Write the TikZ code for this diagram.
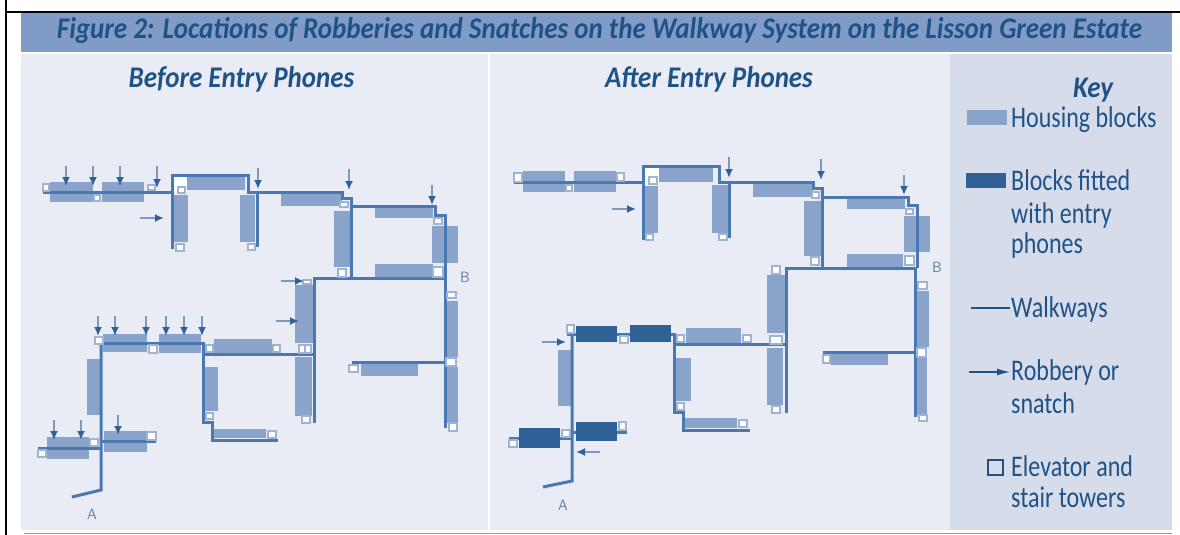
\documentclass[tikz,border=0pt]{standalone}
\usepackage{fontspec}
\usetikzlibrary{arrows.meta}
\newfontfamily\keyfont[FakeStretch=0.80]{Carlito}
\newfontfamily\headfont[FakeStretch=0.9]{Carlito Bold Italic}
\definecolor{bandc}{HTML}{7F9BC6}
\definecolor{panelc}{HTML}{E9ECF5}
\definecolor{keyc}{HTML}{D6DCEA}
\definecolor{blockc}{HTML}{8AA3CB}
\definecolor{darkc}{HTML}{2F6197}
\definecolor{walkc}{HTML}{4A79B2}
\definecolor{towerc}{HTML}{9FB3D3}
\definecolor{shaftc}{HTML}{7E98BE}
\definecolor{inkc}{HTML}{1F5286}
\definecolor{labelc}{HTML}{5F7DA8}
\tikzset{
  x=1pt,y=-1pt,
  walk/.style={draw=walkc,line width=3pt,line join=miter},
  towerbox/.style={draw=towerc,fill=white,line width=1.2pt},
  robbery/.style={draw=shaftc,line width=1.8pt,-{Latex[length=9pt,width=8pt,color=darkc]}},
  head/.style={font=\headfont\fontsize{30}{30}\selectfont,text=inkc,inner sep=0pt,anchor=base},
  keytext/.style={font=\keyfont\fontsize{30}{30}\selectfont,text=inkc,inner sep=0pt,anchor=base west},
  maplabel/.style={font=\sffamily\fontsize{15}{15}\selectfont,text=labelc,inner sep=0pt}
}
\begin{document}
\begin{tikzpicture}
\useasboundingbox (0,0) rectangle (1180,535);
\fill[white] (0,0) rectangle (1180,535);
% frame
\draw[black,line width=2pt] (6,0) -- (6,535);
\draw[black,line width=2pt] (6,12) -- (1180,12);
% panels
\fill[bandc] (21,13) rectangle (1172,52);
\fill[panelc] (21,54) rectangle (488,530);
\fill[panelc] (490,54) rectangle (950,530);
\fill[keyc] (950,54) rectangle (1172,530);
\draw[bandc,line width=1.5pt] (24,533.5) -- (1172,533.5);
% housing blocks
\foreach \a/\b/\c/\d in {
 50/182/93/202, 102/182/144/202, 187/177/245/190, 173/195/188/242, 240/195/255/242,
 281/193/342/206, 334/211/350/267, 375/207/433/218, 432/226/458/263, 375/264/433/277,
 295/285/313/343, 295/357/312/416, 445/301/458/357, 445/367/458/423, 361/363/418/376,
 103/334/147/352, 159/334/201/353, 214/339/272/353, 87/359/101/415, 204/367/218/411,
 214/429/266/438, 47/437/89/459, 104/431/147/452,
 523/171/565/192, 574/171/616/192, 659/168/713/182, 643/186/658/233, 712/185/729/233,
 753/183/813/197, 804/201/821/256, 847/197/905/209, 904/216/930/252, 847/254/903/268,
 767/275/785/333, 767/348/783/405, 917/291/929/347, 917/358/927/415, 831/353/888/365,
 686/328/741/343, 558/350/572/406, 676/358/691/401, 685/418/737/428}
 {\fill[blockc] (\a,\b) rectangle (\c,\d);}
% courtyards
\fill[white] (174,177) rectangle (187,193);
\fill[white] (644,168) rectangle (659,185);
% walkways, before
\draw[walk] (43,192) -- (172,192);
\draw[walk] (172,249) -- (172,175) -- (248,175) -- (248,192) -- (342,192) -- (342,198) -- (351,198) -- (351,278);
\draw[walk] (257,192) -- (257,247);
\draw[walk] (351,206) -- (435,206) -- (435,215) -- (445,215) -- (445,428);
\draw[walk] (314,423) -- (314,278) -- (445,278);
\draw[walk] (352,362) -- (445,362);
\draw[walk] (95,343) -- (203,343) -- (203,422) -- (212,422) -- (212,440) -- (278,440);
\draw[walk] (203,354) -- (314,354);
\draw[walk] (101,343) -- (101,490) -- (72,497);
\draw[walk] (38,448) -- (101,448);
\draw[walk] (101,441) -- (156,441);
% walkways, after
\draw[walk] (514,182) -- (643,182);
\draw[walk] (643,240) -- (643,166) -- (719,166) -- (719,182) -- (813,182) -- (813,188) -- (822,188) -- (822,268);
\draw[walk] (729,182) -- (729,238);
\draw[walk] (822,197) -- (908,197) -- (908,205) -- (917,205) -- (917,268);
\draw[walk] (786,413) -- (786,268) -- (917,268);
\draw[walk] (915.5,268) -- (915.5,417);
\draw[walk] (823,352) -- (915,352);
\draw[walk] (567,334) -- (674,334) -- (674,412) -- (683,412) -- (683,430) -- (750,430);
\draw[walk] (674,344) -- (786,344);
\draw[walk] (572,334) -- (572,481) -- (543,487);
\draw[walk] (509,438) -- (572,438);
\draw[walk] (572,432) -- (627,432);
% blocks fitted with entry phones, over the walkways
\foreach \a/\b/\c/\d in {576/326/617/342, 630/325/671/342, 576/422/617/441, 519/428/560/448}
 {\fill[darkc] (\a,\b) rectangle (\c,\d);}
% elevator and stair towers
\foreach \a/\b/\c/\d in {
 43/184/49/191, 94/195/100/201, 148/185/155/190, 178/187/185/193, 176/244/184/251, 248/244/255/250,
 340/202/348/207, 338/269/346/277, 434/218/442/224, 433/267/443/277, 303/280/311/284,
 299/345/305/353, 305/345/311/353, 302/416/310/423, 447/292/456/298, 446/358/456/366, 349/365/358/372, 449/423/457/431,
 95/337/103/344, 149/345/157/353, 206/345/213/352, 273/345/280/352, 206/413/213/419, 268/431/276/438,
 38/450/46/457, 90/439/98/446, 147/432/156/440,
 514/173/522/182, 566/185/572/191, 617/173/624/181, 649/177/657/184, 646/234/653/240, 719/234/727/240,
 812/192/819/198, 811/257/819/265, 906/209/913/214, 905/256/914/265, 918/282/927/289,
 772/266/780/274, 772/406/780/413, 919/415/927/421, 917/348/926/357, 823/355/830/363,
 770/336/782/344,
 567/325/574/333, 620/336/628/343, 619/422/626/430, 562/430/570/437, 509/440/517/447,
 677/403/684/410, 739/420/747/427, 677/335/684/342, 743/335/751/342}
 {\draw[towerbox] (\a,\b) rectangle (\c,\d);}
% robbery arrows, vertical
\foreach \x/\a/\b in {
 66/166/186, 93/166/186, 120/166/186, 157/166/188, 258/168/189, 349/169/190, 432/185/205,
 98/316/336, 115/316/336, 146/316/336, 166/316/336, 184/316/336, 202/316/336,
 54/420/440, 81/420/440, 118/415/435,
 729/157/178, 821/159/180, 904/175/195}
 {\coordinate (s) at (\x,\a); \coordinate (t) at (\x,\b); \draw[robbery] (s) -- (t);}
% robbery arrows, horizontal
\foreach \y/\a/\b in {218/140/164, 281/281/304, 321/276/299, 209/612/636, 342/542/566, 452/600/576}
 {\coordinate (s) at (\a,\y); \coordinate (t) at (\b,\y); \draw[robbery] (s) -- (t);}
% headings
\node[head] (title) at (599.5,39) {Figure 2: Locations of Robberies and Snatches on the Walkway System on the Lisson Green Estate};
\node[head] (before) at (241.5,88) {Before Entry Phones};
\node[head] (after) at (709,88) {After Entry Phones};
\node[maplabel] (labelA1) at (92,514) {A};
\node[maplabel] (labelB1) at (465,277) {B};
\node[maplabel] (labelA2) at (563,505) {A};
\node[maplabel] (labelB2) at (937,267) {B};
% key
\node[head] (key) at (1093,97) {Key};
\fill[blockc] (967,110) rectangle (1007,125);
\node[keytext] (k1) at (1011,127) {Housing blocks};
\fill[darkc] (966,173) rectangle (1006,188);
\node[keytext] (k2) at (1011,190) {Blocks fitted};
\node[keytext] (k3) at (1011,223) {with entry};
\node[keytext] (k4) at (1011,253) {phones};
\coordinate (w1) at (971,308); \coordinate (w2) at (1010,308);
\draw[inkc,line width=1.2pt] (w1) -- (w2);
\node[keytext] (k5) at (1011,317) {Walkways};
\coordinate (r1) at (969,372); \coordinate (r2) at (1010,372);
\draw[inkc,line width=1.4pt,-{Latex[length=13pt,width=7pt]}] (r1) -- (r2);
\node[keytext] (k6) at (1011,380) {Robbery or};
\node[keytext] (k7) at (1011,413) {snatch};
\draw[inkc,line width=1.2pt] (988,460) rectangle (1003,475);
\node[keytext] (k8) at (1011,476) {Elevator and};
\node[keytext] (k9) at (1011,507) {stair towers};
\end{tikzpicture}
\end{document}
